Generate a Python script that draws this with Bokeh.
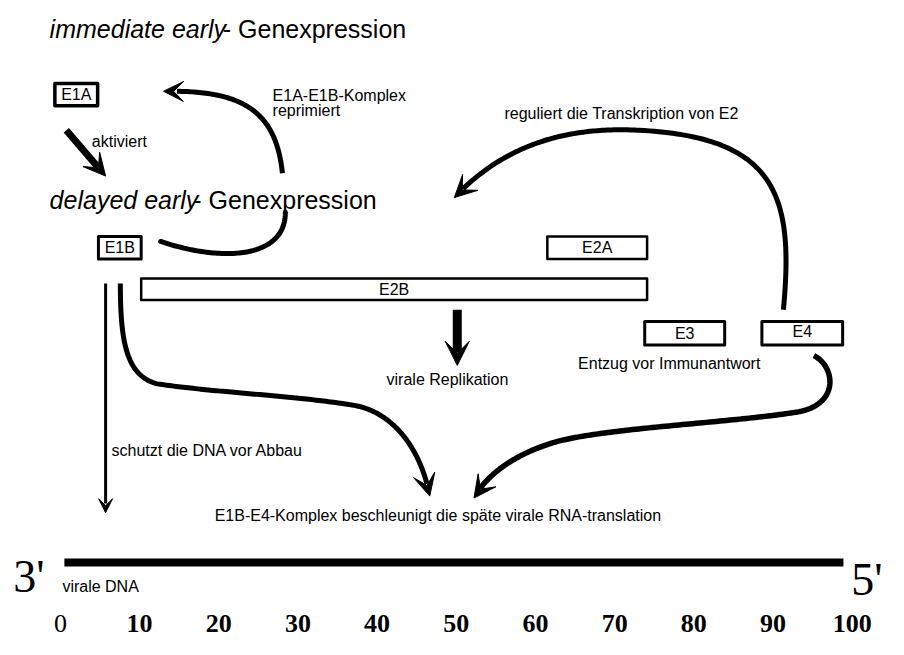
import numpy as np
from bokeh.plotting import figure
from bokeh.models import Range1d, Arrow, VeeHead, ColumnDataSource
from bokeh.core.properties import value
from bokeh.embed import file_html
from bokeh.resources import INLINE

# ---------------- genome map (map units, 0-100) ----------------
genes = ["E1A", "E1B", "E2B", "E2A", "E3", "E4"]
gene_start = [-0.7, 4.8, 10.2, 61.5, 73.8, 88.6]
gene_end = [4.7, 10.2, 74.1, 74.1, 83.9, 98.8]
gene_top = [85, 242, 285, 242, 329, 329]
gene_bottom = [108, 265, 307, 265, 353, 353]
gene_border = [3.5, 3.0, 2.5, 2.5, 3.0, 3.0]
gene_label_dy = [0, 0, 0, 0, 0, -2]

dna_start, dna_end = 0.5, 98.9
dna_row = 576

ticks = [0, 10, 20, 30, 40, 50, 60, 70, 80, 90, 100]
tick_labels = ["0", "10", "20", "30", "40", "50", "60", "70", "80", "90", "100"]
tick_styles = ["normal"] + ["bold"] * 10
tick_row = 639

# ---------------- diagram annotations (layout units) ----------------
notes = ["E1A-E1B-Komplex", "reprimiert", "aktiviert",
         "reguliert die Transkription von E2", "Entzug vor Immunantwort",
         "virale Replikation", "schutzt die DNA vor Abbau",
         "E1B-E4-Komplex beschleunigt die späte virale RNA-translation",
         "virale DNA"]
notes_x = [277, 277, 93, 513, 588, 393, 113, 218, 63]
notes_y = [97, 113, 145, 116, 372, 388, 461, 528, 601]

# curved arrows: cubic Bezier segments (P0, P1, P2, P3)
repress_bottom = [[(163, 247), (225, 268), (290, 265), (290, 217)]]
repress_top = [[(287, 177), (280, 108), (240, 92), (166, 93)]]
regulates = [[(797, 317), (808, 200), (790, 140), (650, 133)],
             [(650, 133), (590, 130), (520, 140), (462, 202)]]
e1b_late = [[(122, 290), (122, 350), (128, 385), (160, 393)],
            [(160, 393), (220, 402), (300, 405), (360, 415)],
            [(360, 415), (400, 422), (428, 460), (437, 508)]]
e4_late = [[(828, 364), (850, 375), (855, 415), (810, 422)],
           [(810, 422), (740, 433), (620, 438), (567, 452)],
           [(567, 452), (527, 463), (495, 485), (482, 510)]]
# straight arrows: (start, tip)
activates = [(67, 133), (107, 180)]
replication = [(465, 317), (465, 374)]
protects = [(107, 290), (107, 525)]

SANS = value("Liberation Sans")
SERIF = value("Liberation Serif")

p = figure(width=888, height=639,
           x_range=Range1d(-61 / 8.06, (904 - 61) / 8.06), y_range=Range1d(655, 0),
           output_backend="svg", toolbar_location=None,
           x_axis_location=None, y_axis_location=None,
           min_border=0, outline_line_color=None,
           background_fill_color="white", border_fill_color="white")
p.grid.visible = False
p.extra_x_ranges = {"layout": Range1d(0, 904)}

# titles
p.text(x=[50], y=[29], text=["immediate early"], x_range_name="layout",
       text_font=SANS, text_font_size="25px", text_font_style="italic",
       text_baseline="alphabetic", text_align="left", text_color="black")
p.text(x=[413], y=[29], text=["- Genexpression"], x_range_name="layout",
       text_font=SANS, text_font_size="25px",
       text_baseline="alphabetic", text_align="right", text_color="black")
p.text(x=[50], y=[204], text=["delayed early"], x_range_name="layout",
       text_font=SANS, text_font_size="25px", text_font_style="italic",
       text_baseline="alphabetic", text_align="left", text_color="black")
p.text(x=[383], y=[204], text=["- Genexpression"], x_range_name="layout",
       text_font=SANS, text_font_size="25px",
       text_baseline="alphabetic", text_align="right", text_color="black")

# gene boxes
gsrc = ColumnDataSource(dict(
    left=gene_start, right=gene_end, top=gene_top, bottom=gene_bottom,
    lw=gene_border, name=genes,
    cx=[(a + b) / 2 for a, b in zip(gene_start, gene_end)],
    cy=[(a + b) / 2 + d for a, b, d in zip(gene_top, gene_bottom, gene_label_dy)]))
p.quad(left="left", right="right", top="top", bottom="bottom", source=gsrc,
       fill_color="white", line_color="black", line_width="lw", line_join="round")
p.text(x="cx", y="cy", text="name", source=gsrc, text_font=SANS,
       text_font_size="16px", text_align="center", text_baseline="middle",
       text_color="black")

# DNA bar
p.segment(x0=[dna_start], y0=[dna_row], x1=[dna_end], y1=[dna_row],
          line_width=8, line_color="black")
p.text(x=[13], y=[590], text=["3'"], x_range_name="layout", text_font=SERIF,
       text_font_size="46px", text_baseline="alphabetic", text_align="left")
p.text(x=[866], y=[593], text=["5'"], x_range_name="layout", text_font=SERIF,
       text_font_size="46px", text_baseline="alphabetic", text_align="left")

# scale labels
tsrc = ColumnDataSource(dict(x=ticks, y=[tick_row] * len(ticks), t=tick_labels, s=tick_styles))
p.text(x="x", y="y", text="t", text_font_style="s", source=tsrc, text_font=SERIF,
       text_font_size="26px", text_align="center", text_baseline="middle")

# annotation texts
p.text(x=notes_x, y=notes_y, text=notes, x_range_name="layout", text_font=SANS,
       text_font_size="16px", text_baseline="alphabetic", text_align="left",
       text_color="black")


def bez(segs, n=80):
    out = []
    for seg in segs:
        P = np.array(seg, float)
        t = np.linspace(0, 1, n)[:, None]
        pts = ((1 - t) ** 3 * P[0] + 3 * (1 - t) ** 2 * t * P[1]
               + 3 * (1 - t) * t ** 2 * P[2] + t ** 3 * P[3])
        out.append(pts if not out else pts[1:])
    return np.vstack(out)


def draw(pts, width, head=None):
    pts = np.asarray(pts, float)
    if head:
        tip = pts[-1]
        if len(pts) == 2:
            pts = np.linspace(pts[0], pts[1], 100)
        d = np.hypot(pts[:, 0] - tip[0], pts[:, 1] - tip[1])
        idx = np.where(d >= head)[0]
        ref = pts[idx[-1]] if len(idx) else pts[0]
        body = pts[d >= head * 0.55]
        p.line(body[:, 0], body[:, 1], line_width=width, line_color="black",
               line_cap="butt", line_join="round", x_range_name="layout")
        p.add_layout(Arrow(end=VeeHead(size=head, fill_color="black", line_color="black", line_width=1),
                           x_start=ref[0], y_start=ref[1], x_end=tip[0], y_end=tip[1],
                           line_alpha=0, x_range_name="layout"))
    else:
        p.line(pts[:, 0], pts[:, 1], line_width=width, line_color="black",
               line_cap="round", line_join="round", x_range_name="layout")


draw(bez(repress_bottom), 5)
draw(bez(repress_top), 5, head=20)
draw(bez(regulates), 5, head=22)
draw(bez(e1b_late), 5, head=22)
draw(bez(e4_late), 5.5, head=22)
draw(activates, 7, head=22)
draw(replication, 9, head=24)
draw(protects, 3, head=14)

open("out.html", "w").write(file_html(p, INLINE))
